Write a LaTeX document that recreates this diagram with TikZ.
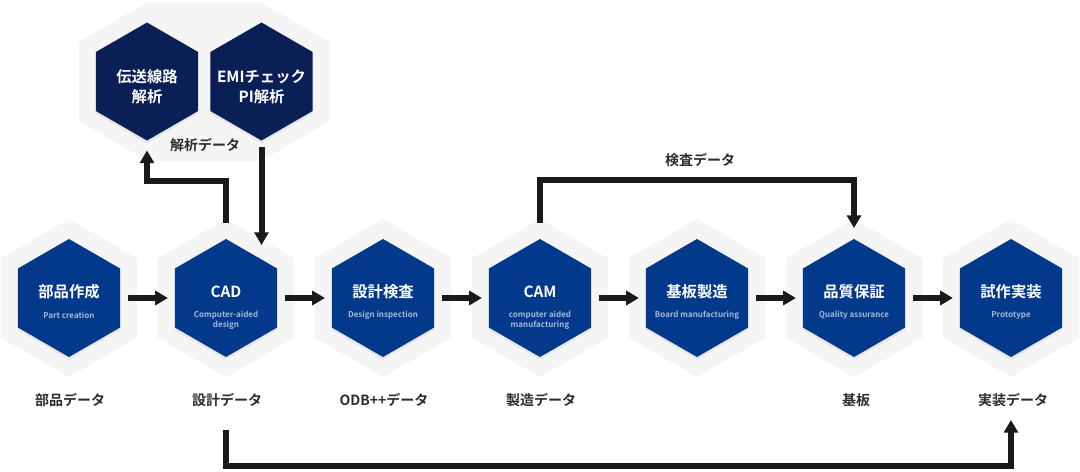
\documentclass[tikz,border=0pt]{standalone}
\usepackage{fontspec}
\setmainfont{Noto Sans CJK JP}[BoldFont={Noto Sans CJK JP Bold}]
\usetikzlibrary{shapes.geometric,arrows.meta,calc,shadows}

\definecolor{hexblue}{RGB}{3,57,139}
\definecolor{hexnavy}{RGB}{11,31,87}
\definecolor{hexgrey}{RGB}{245,245,245}
\definecolor{subtxt}{RGB}{170,182,218}
\definecolor{lbltxt}{RGB}{45,45,45}
\definecolor{arrowblk}{RGB}{26,26,26}

\tikzset{every picture/.style={line width=0.75pt}}
\tikzset{
  hexbase/.style={regular polygon, regular polygon sides=6, shape border rotate=30, inner sep=0pt, outer sep=0pt},
  hexbg/.style={hexbase, minimum size=118.5pt, fill=hexgrey},
  hexin/.style={hexbase, minimum size=88.5pt, fill=hexblue, drop shadow={opacity=0.12, shadow xshift=0pt, shadow yshift=-2pt}},
  hextop/.style={hexin, fill=hexnavy},
  hextitle/.style={text=white, font=\bfseries\fontsize{11.5}{15}\selectfont, align=center, inner sep=0pt},
  hexsub/.style={text=subtxt, font=\bfseries\fontsize{6}{7.5}\selectfont, align=center, inner sep=0pt},
  datalbl/.style={text=lbltxt, font=\bfseries\fontsize{10.5}{12}\selectfont, inner sep=0pt},
  flow/.style={draw=arrowblk, line width=4.5pt, -{Triangle[length=9.5pt,width=10.5pt]}},
  hflow/.style={flow, shorten <=6pt, shorten >=5.25pt}
}

\begin{document}
\begin{tikzpicture}[x=0.75pt,y=0.75pt,yscale=-1,xscale=1]
\useasboundingbox (0,0) rectangle (1080,471);

%Shape: Grey backdrop of the analysis pair
\fill[hexgrey] (79,42) -- (79,121) -- (147,160.5) -- (261.5,160.5) -- (329.5,121) -- (329.5,42) -- (261.5,2.5) -- (147,2.5) -- cycle;

%Shape: Grey backdrops of the main row
\node[hexbg] (parts-bg) at (69,298) {};
\node[hexbg] (cad-bg) at (226,298) {};
\node[hexbg] (insp-bg) at (383,298) {};
\node[hexbg] (cam-bg) at (540,298) {};
\node[hexbg] (board-bg) at (697,298) {};
\node[hexbg] (qa-bg) at (854,298) {};
\node[hexbg] (proto-bg) at (1011,298) {};

%Shape: Hexagons
\node[hextop] (tline) at (147,81.5) {};
\node[hextop] (emi) at (261.5,81.5) {};
\node[hexin] (parts) at (69,298) {};
\node[hexin] (cad) at (226,298) {};
\node[hexin] (insp) at (383,298) {};
\node[hexin] (cam) at (540,298) {};
\node[hexin] (board) at (697,298) {};
\node[hexin] (qa) at (854,298) {};
\node[hexin] (proto) at (1011,298) {};

% Text Node
\node[hextitle] (tline-t) at (147,86.5) {伝送線路\\解析};
% Text Node
\node[hextitle] (emi-t) at (261.5,86.5) {EMIチェック\\PI解析};
% Text Node
\node[hextitle] (parts-t) at (69,292) {部品作成};
\node[hexsub] (parts-s) at (69,315) {Part creation};
% Text Node
\node[hextitle] (cad-t) at (226,292) {CAD};
\node[hexsub] (cad-s) at (226,320) {Computer-aided\\design};
% Text Node
\node[hextitle] (insp-t) at (383,292) {設計検査};
\node[hexsub] (insp-s) at (383,315) {Design inspection};
% Text Node
\node[hextitle] (cam-t) at (540,292) {CAM};
\node[hexsub] (cam-s) at (540,320) {computer aided\\manufacturing};
% Text Node
\node[hextitle] (board-t) at (697,292) {基板製造};
\node[hexsub] (board-s) at (697,315) {Board manufacturing};
% Text Node
\node[hextitle] (qa-t) at (854,292) {品質保証};
\node[hexsub] (qa-s) at (854,315) {Quality assurance};
% Text Node
\node[hextitle] (proto-t) at (1011,292) {試作実装};
\node[hexsub] (proto-s) at (1011,315) {Prototype};

% Text Node
\node[datalbl] (parts-d) at (70,400) {部品データ};
\node[datalbl] (cad-d) at (227,400) {設計データ};
\node[datalbl] (insp-d) at (384,400) {ODB++データ};
\node[datalbl] (cam-d) at (541,400) {製造データ};
\node[datalbl] (qa-d) at (856,400) {基板};
\node[datalbl] (proto-d) at (1013,400) {実装データ};
\node[datalbl] (ana-d) at (205,145) {解析データ};
\node[datalbl] (chk-d) at (700,160) {検査データ};

%Straight Lines
\draw[hflow] (parts.east) -- (cad.west);
\draw[hflow] (cad.east) -- (insp.west);
\draw[hflow] (insp.east) -- (cam.west);
\draw[hflow] (cam.east) -- (board.west);
\draw[hflow] (board.east) -- (qa.west);
\draw[hflow] (qa.east) -- (proto.west);

%Elbow Lines
\draw[flow] ($(cad.north)+(0,-16)$) -- ($(cad.north)+(0,-58)$) -| ($(tline.south)+(0,10)$);
\draw[flow] ($(emi.south)+(0,6)$) -- ($(emi.south |- cad.north)+(0,6)$);
\draw[flow] ($(cam.north)+(0,-16)$) -- ($(cam.north)+(0,-59)$) -| ($(qa.north)+(0,-11)$);
\draw[flow] ($(cad.south)+(0,73)$) -- ($(cad.south)+(0,109)$) -| ($(proto.south)+(0,63)$);

\end{tikzpicture}
\end{document}
